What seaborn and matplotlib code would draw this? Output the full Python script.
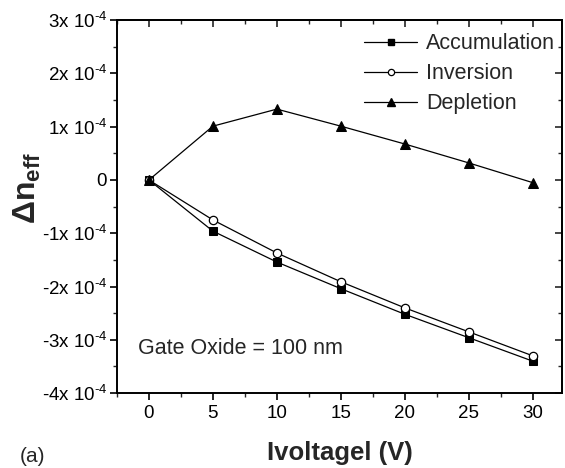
import matplotlib
matplotlib.use("Agg")
import matplotlib.pyplot as plt
import seaborn as sns
import pandas as pd
from matplotlib.ticker import MultipleLocator, FixedLocator, FixedFormatter
from matplotlib.lines import Line2D

voltage = [0, 5, 10, 15, 20, 25, 30]
accumulation = [0, -0.96e-4, -1.54e-4, -2.04e-4, -2.52e-4, -2.96e-4, -3.40e-4]
inversion = [0, -0.75e-4, -1.37e-4, -1.91e-4, -2.40e-4, -2.85e-4, -3.30e-4]
depletion = [0, 1.01e-4, 1.33e-4, 1.01e-4, 0.675e-4, 0.32e-4, -0.05e-4]
series_names = ["Accumulation", "Inversion", "Depletion"]
ytick_vals = [3e-4, 2e-4, 1e-4, 0, -1e-4, -2e-4, -3e-4, -4e-4]
ytick_labels = ["3x 10$^{\\text{-4}}$", "2x 10$^{\\text{-4}}$", "1x 10$^{\\text{-4}}$", "0",
                "-1x 10$^{\\text{-4}}$", "-2x 10$^{\\text{-4}}$", "-3x 10$^{\\text{-4}}$",
                "-4x 10$^{\\text{-4}}$"]
xtick_vals = [0, 5, 10, 15, 20, 25, 30]

sns.set_style("ticks")
plt.rcParams["font.family"] = ["Liberation Sans", "DejaVu Sans"]
plt.rcParams["mathtext.fontset"] = "custom"
plt.rcParams["mathtext.rm"] = "Liberation Sans"
plt.rcParams["mathtext.it"] = "Liberation Sans:italic"
plt.rcParams["mathtext.bf"] = "Liberation Sans:bold"
plt.rcParams["axes.unicode_minus"] = False

df = pd.DataFrame({
    "V": voltage * 3,
    "dn": accumulation + inversion + depletion,
    "series": [series_names[0]] * 7 + [series_names[1]] * 7 + [series_names[2]] * 7,
})

fig = plt.figure(figsize=(5.65, 4.68), dpi=100)
ax = fig.add_axes([0.207, 0.160, 0.788, 0.797])

styles = {
    "Accumulation": dict(marker="s", markersize=6, markerfacecolor="black", markeredgecolor="black"),
    "Inversion": dict(marker="o", markersize=6, markerfacecolor="white", markeredgecolor="black", markeredgewidth=0.9),
    "Depletion": dict(marker="^", markersize=7.5, markerfacecolor="black", markeredgecolor="black"),
}
for name in series_names:
    sub = df[df["series"] == name]
    sns.lineplot(data=sub, x="V", y="dn", ax=ax, color="black", linewidth=0.9,
                 legend=False, **styles[name])

ax.set_xlim(-2.5, 32.3)
ax.set_ylim(-4e-4, 3e-4)
ax.xaxis.set_major_locator(FixedLocator(xtick_vals))
ax.xaxis.set_minor_locator(MultipleLocator(2.5))
ax.yaxis.set_major_locator(FixedLocator(ytick_vals))
ax.yaxis.set_major_formatter(FixedFormatter(ytick_labels))
ax.yaxis.set_minor_locator(MultipleLocator(0.5e-4))
ax.tick_params(axis="both", which="major", direction="out", length=5, width=1.2, labelsize=13.5, colors="black")
ax.tick_params(axis="y", which="major", pad=2)
ax.tick_params(axis="both", which="minor", direction="out", length=3, width=1.0)
for s in ax.spines.values():
    s.set_linewidth(1.4)
    s.set_color("black")

# mirrored inward ticks on top and right
top = ax.secondary_xaxis("top")
top.xaxis.set_major_locator(FixedLocator(xtick_vals))
top.xaxis.set_minor_locator(MultipleLocator(2.5))
top.tick_params(which="major", direction="in", length=5, width=1.2, labeltop=False)
top.tick_params(which="minor", direction="in", length=3, width=1.0)
top.spines["top"].set_linewidth(1.4)
right = ax.secondary_yaxis("right")
right.yaxis.set_major_locator(FixedLocator(ytick_vals))
right.yaxis.set_minor_locator(MultipleLocator(0.5e-4))
right.tick_params(which="major", direction="in", length=5, width=1.2, labelright=False)
right.tick_params(which="minor", direction="in", length=3, width=1.0)
right.spines["right"].set_linewidth(1.4)

ax.set_xlabel("Ivoltagel (V)", fontsize=18.5, fontweight="bold", labelpad=14)
ax.set_ylabel(r"$\mathbf{\Delta n_{eff}}$", fontsize=23)
ax.yaxis.set_label_coords(-0.165, 0.55)

handles = [Line2D([], [], color="black", linewidth=0.9, **styles[n]) for n in series_names]
ax.legend(handles, series_names, loc="upper right", frameon=False, fontsize=15.5,
          handlelength=2.5, handletextpad=0.4, labelspacing=0.42, borderaxespad=0.2,
          markerscale=0.75, bbox_to_anchor=(1.013, 1.0))

ax.text(0.047, 0.12, "Gate Oxide = 100 nm", transform=ax.transAxes, fontsize=15.5, va="center")
fig.text(0.035, 0.024, "(a)", fontsize=15, va="center")

fig.savefig("out.png", dpi=100)
